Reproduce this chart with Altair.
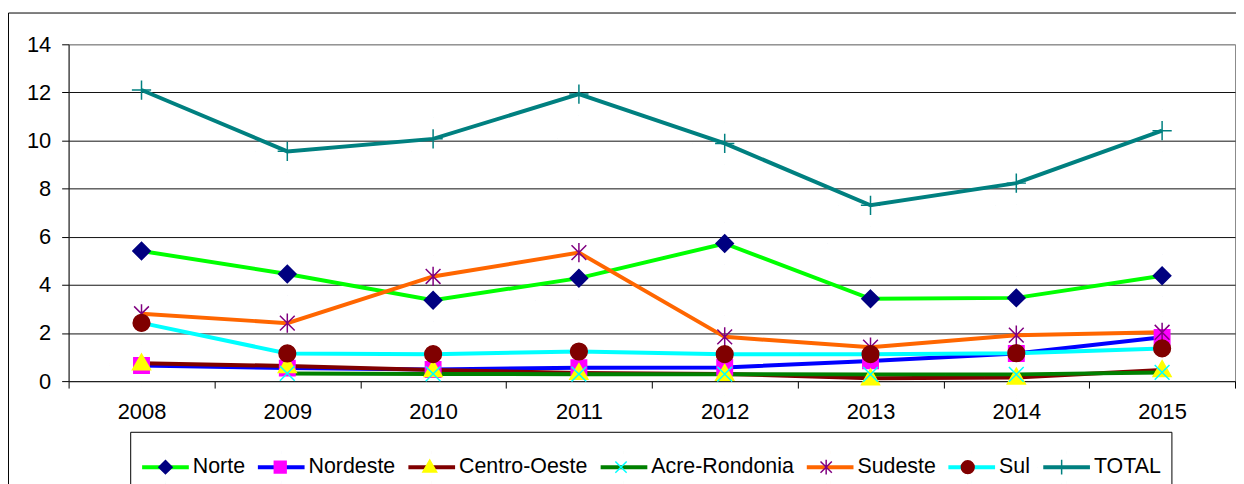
import altair as alt
import pandas as pd

years = ["2008", "2009", "2010", "2011", "2012", "2013", "2014", "2015"]
series_names = ["Norte", "Nordeste", "Centro-Oeste", "Acre-Rondonia", "Sudeste", "Sul", "TOTAL"]

norte = [5.41, 4.45, 3.36, 4.28, 5.72, 3.42, 3.46, 4.38]
nordeste = [0.65, 0.54, 0.48, 0.56, 0.57, 0.84, 1.15, 1.82]
centro_oeste = [0.74, 0.63, 0.46, 0.34, 0.30, 0.12, 0.15, 0.46]
acre_rondonia = [None, 0.32, 0.30, 0.29, 0.29, 0.28, 0.28, 0.36]
sudeste = [2.80, 2.41, 4.35, 5.34, 1.84, 1.41, 1.91, 2.03]
sul = [2.42, 1.15, 1.12, 1.23, 1.12, 1.12, 1.16, 1.36]
total = [12.10, 9.55, 10.07, 11.93, 9.88, 7.31, 8.23, 10.41]

line_colors = ["#00FF00", "#0000FF", "#800000", "#008000", "#FF6600", "#00FFFF", "#008080"]
marker_colors = ["#000080", "#FF00FF", "#FFFF00", "#00FFFF", "#800080", "#800000", "#008080"]

FONT = "Liberation Sans"
LEG_FONT = 21.5
LEG_PAD = 10
LEG_X = 62
LEG_Y = 390

# marker glyphs (unit square coordinates)
glyphs = [
    "M0,-0.27L0.27,0L0,0.27L-0.27,0Z",
    "M-0.24,-0.24L0.24,-0.24L0.24,0.24L-0.24,0.24Z",
    "M0,-0.29L0.28,0.2L-0.28,0.2Z",
    "M-0.23,-0.23L0.23,0.23M-0.23,0.23L0.23,-0.23",
    "M-0.23,-0.23L0.23,0.23M-0.23,0.23L0.23,-0.23M0,-0.3L0,0.3",
    "M0.26,0A0.26,0.26,0,1,1,-0.26,0A0.26,0.26,0,1,1,0.26,0Z",
    "M-0.3,0L0.3,0M0,-0.3L0,0.3",
]
# advance widths (em) of the legend labels in Arial/Liberation Sans metrics
label_em = [2.445, 4.057, 6.002, 6.669, 3.669, 1.445, 3.223]


def tick(x, y):
    # a practically invisible, tiny segment that only extends the symbol's bounds
    return "M%.4f,%.4fL%.4f,%.4f" % (x - 0.0004, y, x + 0.0004, y)


# the marker legend has no labels; the invisible segment at the right end of each
# symbol gives every marker entry the same width as the matching line-legend entry
MK_SCALE = 49.5 / 2.0
marker_paths = []
for g, em in zip(glyphs, label_em):
    r = (26.75 + em * LEG_FONT) / MK_SCALE
    ext = tick(0, -0.657) + tick(0, 0.657) + tick(-0.9996, 0) + tick(r - 0.0004, 0)
    marker_paths.append(ext + g)
line_symbol = tick(0, -0.638) + tick(0, 0.638) + "M-1,0L1,0"

all_values = [norte, nordeste, centro_oeste, acre_rondonia, sudeste, sul, total]
rows = []
for name, vals in zip(series_names, all_values):
    for yr, v in zip(years, vals):
        rows.append({"year": yr, "series": name, "series_m": name + "_", "value": v})
df = pd.DataFrame(rows)
series_m_names = [s + "_" for s in series_names]

x_enc = alt.X(
    "year:O",
    bandPosition=0.5,
    scale=alt.Scale(type="band", paddingInner=0, paddingOuter=0),
    axis=alt.Axis(
        title=None, labelAngle=0, tickBand="extent", tickSize=7, tickColor="black",
        domainColor="#222222", labelFont=FONT, labelFontSize=22, labelColor="black",
        labelPadding=14, grid=False,
    ),
)
y_enc = alt.Y(
    "value:Q",
    scale=alt.Scale(domain=[0, 14], nice=False),
    axis=alt.Axis(
        title=None, values=[0, 2, 4, 6, 8, 10, 12, 14], tickSize=7, tickColor="black",
        domainColor="#222222", labelFont=FONT, labelFontSize=22, labelColor="black",
        labelPadding=11, grid=True, gridWidth=1,
        gridColor={"condition": {"test": "datum.value == 14", "value": "#8a8a8a"}, "value": "#111111"},
    ),
)

legend_lines = alt.Legend(
    title=None, orient="none", legendX=LEG_X, legendY=LEG_Y, direction="horizontal",
    symbolType=line_symbol, symbolSize=2209, symbolStrokeWidth=4,
    labelFont=FONT, labelFontSize=LEG_FONT, labelColor="black", labelOffset=2,
    columnPadding=4.5, padding=LEG_PAD, strokeColor="black", fillColor="white",
    labelLimit=400, zindex=1,
)
legend_markers = alt.Legend(
    title=None, orient="none", legendX=LEG_X, legendY=LEG_Y, direction="horizontal",
    symbolSize=2450.25, symbolStrokeWidth=1.5,
    labelFont=FONT, labelFontSize=LEG_FONT, labelOpacity=0, labelOffset=2,
    labelExpr="''",
    columnPadding=4.5, padding=LEG_PAD, labelLimit=400, zindex=2,
)

frame = alt.Chart(alt.Data(values=[{"k": 1}])).mark_rect(
    filled=False, stroke="black", strokeWidth=1
).encode(
    x=alt.value(-60.5), y=alt.value(-31.5), x2=alt.value(1400), y2=alt.value(700)
)

lines = alt.Chart(df).mark_line(strokeWidth=4).encode(
    x=x_enc, y=y_enc,
    color=alt.Color("series:N", scale=alt.Scale(domain=series_names, range=line_colors), legend=legend_lines),
)

points = alt.Chart(df).mark_point(filled=True, size=4177, strokeWidth=1.5, opacity=1).encode(
    x=x_enc, y=y_enc,
    shape=alt.Shape("series_m:N", scale=alt.Scale(domain=series_m_names, range=marker_paths), legend=legend_markers),
    fill=alt.Fill("series_m:N", scale=alt.Scale(domain=series_m_names, range=marker_colors), legend=legend_markers),
    stroke=alt.Stroke("series_m:N", scale=alt.Scale(domain=series_m_names, range=marker_colors), legend=legend_markers),
)

chart = alt.layer(frame, lines, points).properties(
    width=1174, height=339,
    autosize=alt.AutoSizeParams(type="none"),
    padding={"left": 61, "top": 35, "right": 1, "bottom": 102},
    background="white",
).configure_view(stroke="#8a8a8a", strokeWidth=1)

chart.save("out.html", embed_options={"renderer": "svg", "actions": False})
